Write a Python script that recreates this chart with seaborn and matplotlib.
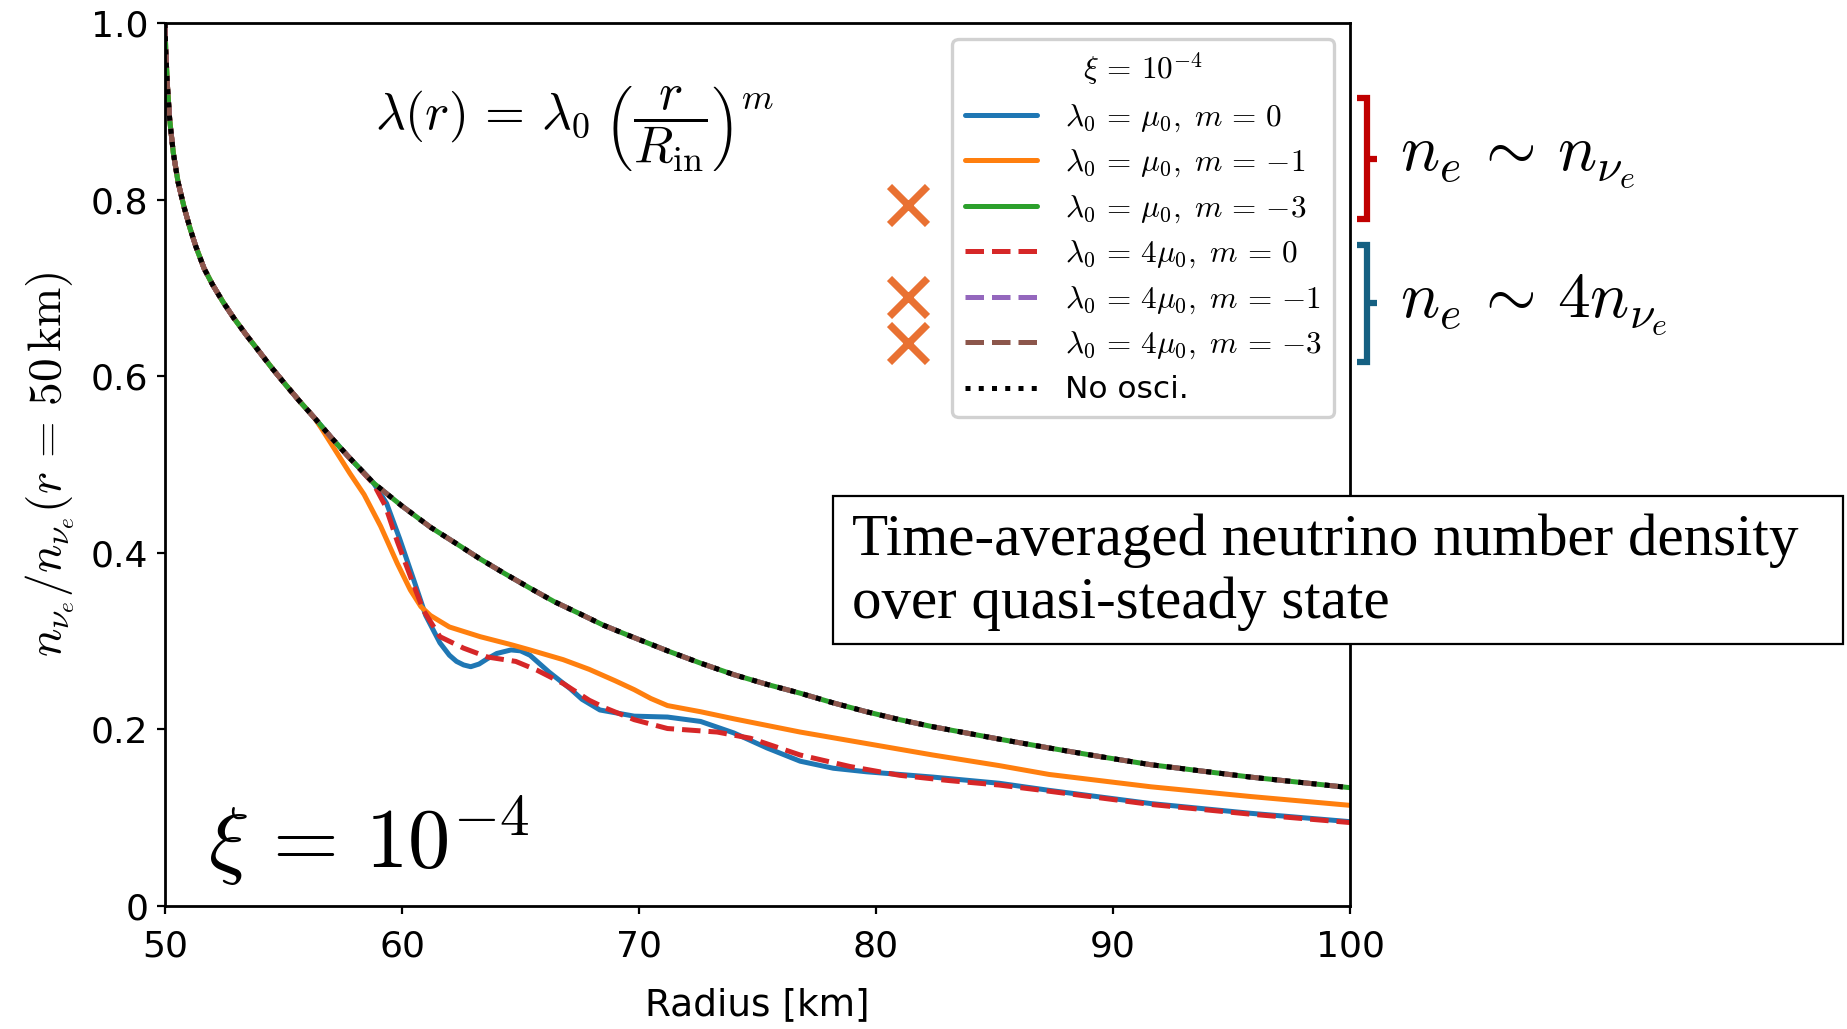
import numpy as np
import pandas as pd
import seaborn as sns
import matplotlib
matplotlib.use("Agg")
import matplotlib.pyplot as plt
from matplotlib.lines import Line2D
from matplotlib.patches import Rectangle

# ---------------- data ----------------
# shared early part (all curves coincide here)
r_head = [50.0, 50.03, 50.1, 50.2, 50.35, 50.55, 50.8, 51.05, 51.3, 51.65, 52.0,
          52.45, 52.9, 53.45, 54.0, 54.55, 55.1, 55.7, 56.3]
n_head = [1.0, 0.970, 0.930, 0.890, 0.853, 0.820, 0.792, 0.768, 0.747, 0.722, 0.704,
          0.684, 0.666, 0.646, 0.627, 0.608, 0.590, 0.571, 0.553]

# no oscillation curve (also m=-3 for mu0, and 4mu0 with m=-1, m=-3)
r_noosc = r_head + [57.0, 57.7, 58.8, 60.0, 61.2, 62.2, 63.3, 64.3, 65.4, 66.4, 67.5,
                    68.5, 69.6, 71.2, 72.6, 74.0, 75.4, 76.8, 78.2, 79.6, 81.0, 82.4,
                    83.8, 85.2, 87.3, 89.5, 91.6, 93.7, 95.8, 97.9, 100.0]
n_noosc = n_head + [0.531, 0.510, 0.479, 0.453, 0.429, 0.412, 0.393, 0.377, 0.360,
                    0.345, 0.331, 0.318, 0.306, 0.289, 0.275, 0.262, 0.251, 0.241,
                    0.230, 0.220, 0.211, 0.203, 0.196, 0.189, 0.179, 0.169, 0.160,
                    0.153, 0.146, 0.140, 0.134]

# lambda0 = mu0, m = 0
r_mu0_m0 = r_head + [57.0, 57.7, 58.8, 59.35, 59.9, 60.5, 61.0, 61.6, 62.0, 62.3,
                     62.6, 62.9, 63.25, 63.6, 64.0, 64.6, 65.0, 65.4, 66.2, 67.1,
                     67.6, 68.35, 69.8, 71.2, 72.6, 74.0, 75.4, 76.8, 78.2, 79.6,
                     82.4, 85.2, 87.3, 91.6, 95.8, 100.0]
n_mu0_m0 = n_head + [0.531, 0.510, 0.479, 0.456, 0.416, 0.369, 0.329, 0.298, 0.284,
                     0.277, 0.273, 0.271, 0.274, 0.280, 0.286, 0.290, 0.289, 0.284,
                     0.265, 0.246, 0.234, 0.222, 0.215, 0.214, 0.209, 0.196, 0.179,
                     0.164, 0.156, 0.152, 0.146, 0.139, 0.131, 0.116, 0.105, 0.0955]

# lambda0 = mu0, m = -1
r_mu0_m1 = r_head + [56.6, 57.0, 57.4, 57.8, 58.4, 59.1, 59.8, 60.35, 60.8, 61.2,
                     62.0, 63.3, 64.6, 65.4, 66.8, 67.9, 69.0, 69.8, 70.5, 71.2,
                     72.6, 74.0, 76.8, 79.6, 82.4, 85.2, 87.3, 91.6, 95.8, 100.0]
n_mu0_m1 = n_head + [0.541, 0.524, 0.507, 0.490, 0.466, 0.430, 0.388, 0.358, 0.339,
                     0.329, 0.316, 0.305, 0.296, 0.290, 0.279, 0.268, 0.255, 0.245,
                     0.235, 0.227, 0.220, 0.212, 0.197, 0.184, 0.171, 0.159, 0.149,
                     0.135, 0.124, 0.114]

# lambda0 = 4 mu0, m = 0
r_4mu0_m0 = r_head + [57.0, 57.7, 58.8, 59.3, 59.8, 60.4, 60.9, 61.6, 62.6, 63.6,
                      64.8, 65.7, 66.8, 67.9, 68.6, 69.8, 71.2, 73.3, 74.7, 76.8,
                      78.9, 81.0, 83.1, 85.2, 87.3, 91.6, 95.8, 100.0]
n_4mu0_m0 = n_head + [0.531, 0.510, 0.478, 0.453, 0.413, 0.370, 0.335, 0.305, 0.292,
                      0.282, 0.277, 0.267, 0.252, 0.233, 0.224, 0.211, 0.201, 0.197,
                      0.190, 0.171, 0.158, 0.148, 0.142, 0.137, 0.130, 0.115, 0.104,
                      0.0945]

labels = [r"$\lambda_0 \,=\, \mu_0,\; m \,=\, 0$",
          r"$\lambda_0 \,=\, \mu_0,\; m \,=\, {-1}$",
          r"$\lambda_0 \,=\, \mu_0,\; m \,=\, {-3}$",
          r"$\lambda_0 \,=\, 4\mu_0,\; m \,=\, 0$",
          r"$\lambda_0 \,=\, 4\mu_0,\; m \,=\, {-1}$",
          r"$\lambda_0 \,=\, 4\mu_0,\; m \,=\, {-3}$",
          "No osci."]
colors = ["#1f77b4", "#ff7f0e", "#2ca02c", "#d62728", "#9467bd", "#8c564b", "black"]
styles = ["-", "-", "-", "--", "--", "--", ":"]
series_r = [r_mu0_m0, r_mu0_m1, r_noosc, r_4mu0_m0, r_noosc, r_noosc, r_noosc]
series_n = [n_mu0_m0, n_mu0_m1, n_noosc, n_4mu0_m0, n_noosc, n_noosc, n_noosc]

x_ticks = [50, 60, 70, 80, 90, 100]
y_ticks = [0, 0.2, 0.4, 0.6, 0.8, 1.0]
y_ticklabels = ["0", "0.2", "0.4", "0.6", "0.8", "1.0"]

# ---------------- style ----------------
sns.set_theme(style="ticks", rc={
    "axes.edgecolor": "black", "axes.labelcolor": "black", "text.color": "black",
    "xtick.color": "black", "ytick.color": "black",
    "axes.linewidth": 2.0, "xtick.major.width": 1.6, "ytick.major.width": 1.6,
    "xtick.major.size": 6, "ytick.major.size": 6,
})
plt.rcParams["font.family"] = ["DejaVu Sans"]
plt.rcParams["mathtext.fontset"] = "cm"

W, H = 1847, 1029
fig = plt.figure(figsize=(W / 100, H / 100), dpi=100)
ax = fig.add_axes([165 / W, 1 - 906 / H, 1185 / W, 883 / H])

for r, n, c, ls, lab in zip(series_r, series_n, colors, styles, labels):
    df = pd.DataFrame({"r": r, "n": n})
    sns.lineplot(data=df, x="r", y="n", ax=ax, color=c, linestyle=ls,
                 linewidth=3.6, label=lab, sort=False, estimator=None,
                 solid_joinstyle="round", dash_joinstyle="round")

ax.set_xlim(50, 100)
ax.set_ylim(0, 1)
ax.set_xticks(x_ticks)
ax.set_yticks(y_ticks)
ax.set_yticklabels(y_ticklabels)
ax.tick_params(axis="both", labelsize=26)
ax.tick_params(axis="x", pad=11)
ax.tick_params(axis="y", pad=6)
for s in ax.spines.values():
    s.set_visible(True)
    s.set_linewidth(2.0)
ax.set_xlabel("Radius [km]", fontsize=27, labelpad=17)
ax.set_ylabel(r"$n_{\nu_e}/n_{\nu_e}(r \,=\, 50\,\mathrm{km})$", fontsize=34, labelpad=10)

leg = ax.legend(loc="upper right", fontsize=22.5, title=r"$\xi \,=\, 10^{-4}$",
                title_fontsize=22.5, handlelength=2.3, handletextpad=0.9,
                labelspacing=0.45, framealpha=1.0, edgecolor="0.82", fancybox=True)
leg.get_frame().set_linewidth(2.4)

# formula
fig.text(575 / W, 1 - 128 / H,
         r"$\lambda(r) \,=\, \lambda_0\;\left(\dfrac{r}{R_{\mathrm{in}}}\right)^m$",
         fontsize=37, ha="center", va="center")

# xi label
ax.text(0.036, 0.043, r"$\xi \,=\, 10^{-4}$", transform=ax.transAxes,
        fontsize=61, ha="left", va="baseline")

# crosses
for yy in [0.794, 0.690, 0.638]:
    ax.plot([0.627], [yy], marker="x", color="#E97132", markersize=27,
            markeredgewidth=5.2, transform=ax.transAxes, clip_on=False, zorder=10)

# brackets
def bracket(y_top, y_bot, y_mid, color):
    xs = [1357, 1367, 1367, 1357]
    ys = [y_top, y_top, y_bot, y_bot]
    fig.add_artist(Line2D([x / W for x in xs], [1 - y / H for y in ys],
                          color=color, lw=4.5, solid_joinstyle="miter",
                          solid_capstyle="butt", transform=fig.transFigure))
    fig.add_artist(Line2D([1367 / W, 1377 / W], [1 - y_mid / H, 1 - y_mid / H],
                          color=color, lw=4.5, solid_capstyle="butt",
                          transform=fig.transFigure))

bracket(98, 219, 159, "#C00000")
bracket(245, 362, 303, "#156082")

fig.text(1400 / W, 1 - 170 / H, r"$n_e \,\sim\, n_{\nu_e}$", fontsize=47,
         ha="left", va="baseline")
fig.text(1400 / W, 1 - 317 / H, r"$n_e \,\sim\, 4n_{\nu_e}$", fontsize=47,
         ha="left", va="baseline")

# boxed caption
fig.add_artist(Rectangle((833 / W, 1 - 644 / H), (1843 - 833) / W, (644 - 496) / H,
                         transform=fig.transFigure, facecolor="white",
                         edgecolor="black", linewidth=1.6, zorder=20))
fig.text(852 / W, 1 - 572 / H,
         "Time-averaged neutrino number density\nover quasi-steady state",
         fontsize=42.5, family=["Liberation Serif", "DejaVu Serif"],
         ha="left", va="center", linespacing=1.2, zorder=21)

fig.savefig("out.png", dpi=100)
